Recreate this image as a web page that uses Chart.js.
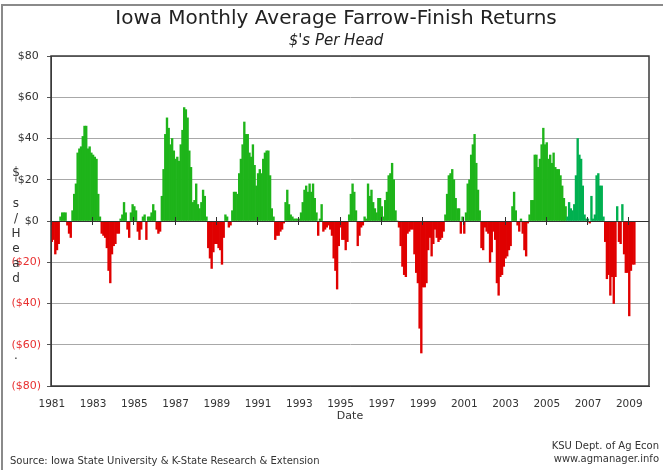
<!DOCTYPE html>
<html>
<head>
<meta charset="utf-8">
<script src="https://cdn.jsdelivr.net/npm/chart.js@4.4.1/dist/chart.umd.min.js"></script>
<style>
  html, body { margin: 0; padding: 0; background: #fff; }
  #wrap { position: relative; width: 663px; height: 470px; overflow: hidden; }
  #frame { position: absolute; left: 1px; top: 4px; width: 700px; height: 500px; border-top: 2px solid #8a8a8a; border-left: 2px solid #8a8a8a; pointer-events: none; }
  canvas { position: absolute; left: 0; top: 0; }
</style>
</head>
<body>
<div id="wrap">
  <canvas id="chartReturns" width="663" height="470"></canvas>
  <div id="frame"></div>
</div>
<script>
/* monthly farrow-finish returns, $ per head */
const r1981 = [-10, -9, -16, -14, -11, 2, 4, 4, 4, -2, -6, -8];
const r1982 = [5, 13, 18, 33, 35, 36, 41, 46, 46, 35, 36, 33];
const r1983 = [32, 31, 30, 13, 2, -6, -7, -8, -13, -24, -30, -16];
const r1984 = [-12, -11, -6, -6, 1, 3, 9, 4, -4, -8, 4, 8];
const r1985 = [7, 5, -5, -9, -4, 2, 3, -9, 2, 2, 4, 8];
const r1986 = [5, -4, -6, -5, 12, 25, 42, 50, 45, 37, 40, 34];
const r1987 = [30, 31, 29, 37, 44, 55, 54, 50, 34, 26, 9, 10];
const r1988 = [18, 8, 6, 9, 15, 12, 2, -13, -18, -23, -15, -11];
const r1989 = [-11, -13, -14, -21, -8, 3, 2, -3, -2, 5, 14, 14];
const r1990 = [13, 23, 30, 37, 48, 42, 42, 33, 31, 37, 27, 17];
const r1991 = [23, 25, 23, 30, 33, 34, 34, 22, 6, 2, -9, -7];
const r1992 = [-7, -5, -4, -1, 9, 15, 8, 3, 2, 1, 1, 1];
const r1993 = [1, 4, 9, 15, 17, 14, 18, 14, 18, 11, 4, -7];
const r1994 = [1, 8, -5, -4, -3, -2, -4, -7, -18, -24, -33, -12];
const r1995 = [-3, -9, -9, -14, -10, 3, 13, 18, 14, 5, -12, -7];
const r1996 = [-3, -2, 2, 1, 18, 12, 15, 9, 6, 4, 11, 11];
const r1997 = [7, 2, 10, 14, 22, 23, 28, 20, 5, 0, -3, -12];
const r1998 = [-22, -26, -27, -6, -5, -4, -4, -16, -25, -30, -52, -64];
const r1999 = [-32, -32, -30, -14, -8, -17, -11, -4, -8, -10, -9, -8];
const r2000 = [-5, 3, 13, 22, 23, 25, 20, 11, 6, 6, -6, 2];
const r2001 = [-6, 4, 18, 20, 32, 37, 42, 28, 15, 5, -13, -14];
const r2002 = [-3, -5, -6, -20, -15, -5, -9, -30, -36, -27, -26, -22];
const r2003 = [-18, -17, -14, -12, 7, 14, 5, -2, -5, 1, -6, -14];
const r2004 = [-17, -1, 3, 10, 10, 32, 32, 26, 30, 37, 45, 37];
const r2005 = [38, 30, 32, 28, 33, 26, 25, 25, 22, 17, 11, 7];
const r2006 = [2, 9, 6, 5, 8, 22, 40, 32, 30, 17, 3, 1];
const r2007 = [1, -1, 12, 1, 3, 22, 23, 17, 17, 2, -10, -28];
const r2008 = [-26, -36, -27, -40, -27, 7, -10, -11, 8, -16, -25, -25];
const r2009 = [-46, -24, -21, -21];

const firstYear = 1981;
const lastYear = 2009;
const yearLabels = ['1981', '1983', '1985', '1987', '1989', '1991', '1993', '1995', '1997', '1999', '2001', '2003', '2005', '2007', '2009'];
const yTicks = [-80, -60, -40, -20, 0, 20, 40, 60, 80];
const projectedFrom = '2006-01';

const returns = [].concat(r1981, r1982, r1983, r1984, r1985, r1986, r1987, r1988, r1989, r1990,
  r1991, r1992, r1993, r1994, r1995, r1996, r1997, r1998, r1999, r2000,
  r2001, r2002, r2003, r2004, r2005, r2006, r2007, r2008, r2009);

const months = [];
for (let yr = firstYear; yr <= lastYear; yr++) {
  for (let m = 1; m <= 12; m++) {
    months.push(yr + '-' + (m < 10 ? '0' + m : m));
  }
}
const projIdx = months.indexOf(projectedFrom);

const barColors = returns.map(function (v, i) {
  if (v < 0) return '#e00000';
  return i >= projIdx ? '#00b050' : '#1eb41a';
});

const FONT = "'DejaVu Sans', Verdana, sans-serif";

const decor = {
  id: 'decor',
  afterDatasetsDraw: function (chart) {
    const ctx = chart.ctx;
    const a = chart.chartArea;
    const x = chart.scales.x;
    const y = chart.scales.y;
    const y0 = y.getPixelForValue(0);
    const half = (a.right - a.left) / months.length / 2;
    ctx.save();
    // zero line
    ctx.strokeStyle = '#303030';
    ctx.lineWidth = 1;
    ctx.beginPath();
    ctx.moveTo(a.left, Math.round(y0) + 0.5);
    ctx.lineTo(a.right, Math.round(y0) + 0.5);
    ctx.stroke();
    // year tick marks on the zero line
    months.forEach(function (mo, i) {
      if (yearLabels.indexOf(mo.slice(0, 4)) >= 0 && mo.slice(5) === '01') {
        const px = Math.round(x.getPixelForValue(i) - half) + 0.5;
        ctx.beginPath();
        ctx.moveTo(px, y0 - 4);
        ctx.lineTo(px, y0 + 4);
        ctx.stroke();
      }
    });
    // plot frame
    ctx.strokeStyle = '#3a3a3a';
    ctx.lineWidth = 1.5;
    ctx.strokeRect(a.left, a.top, a.right - a.left, a.bottom - a.top);
    ctx.restore();
  },
  afterDraw: function (chart) {
    const ctx = chart.ctx;
    ctx.save();
    ctx.fillStyle = '#333';
    ctx.textAlign = 'center';
    ctx.textBaseline = 'middle';
    ctx.font = '12px ' + FONT;
    // stacked axis title, as in the original
    const letters = ['$', "'", 's', '/', 'H', 'e', 'a', 'd'];
    const ly = [173, 184, 204, 219, 234, 249, 264, 279];
    letters.forEach(function (c, i) {
      ctx.fillText(c, 16, ly[i]);
    });
    ctx.fillText('.', 16, 356);
    ctx.font = '10px ' + FONT;
    ctx.textAlign = 'left';
    ctx.fillText('Source: Iowa State University & K-State Research & Extension', 10, 461);
    ctx.textAlign = 'right';
    ctx.fillText('KSU Dept. of Ag Econ', 659, 446);
    ctx.fillText('www.agmanager.info', 659, 459);
    ctx.restore();
  },
};

const chart = new Chart(document.getElementById('chartReturns'), {
  type: 'bar',
  data: {
    labels: months,
    datasets: [
      {
        data: returns,
        backgroundColor: barColors,
        borderWidth: 0,
        barPercentage: 1,
        categoryPercentage: 1,
      },
    ],
  },
  options: {
    responsive: false,
    animation: false,
    layout: {
      padding: { left: 9, right: 0, top: 0, bottom: 0 },
    },
    plugins: {
      legend: { display: false },
      tooltip: { enabled: false },
      title: {
        display: true,
        text: 'Iowa Monthly Average Farrow-Finish Returns',
        color: '#222',
        font: { family: FONT, size: 20, weight: 'normal' },
        padding: { top: 7, bottom: 0 },
      },
      subtitle: {
        display: true,
        text: "$'s Per Head",
        color: '#222',
        font: { family: FONT, size: 15, style: 'italic' },
        padding: { top: 1, bottom: 6 },
      },
    },
    scales: {
      x: {
        grid: { display: false },
        border: { display: true, color: '#3a3a3a' },
        ticks: {
          autoSkip: false,
          maxRotation: 0,
          padding: 4,
          color: '#333',
          font: { family: FONT, size: 10.5 },
          callback: function (val, i) {
            const mo = months[i];
            return mo.slice(5) === '01' && yearLabels.indexOf(mo.slice(0, 4)) >= 0 ? mo.slice(0, 4) : '';
          },
        },
        title: {
          display: true,
          text: 'Date',
          color: '#333',
          font: { family: FONT, size: 11 },
          padding: { top: 0, bottom: 47 },
        },
        afterFit: function (s) {
          s.height = 84;
        },
      },
      y: {
        min: -80,
        max: 80,
        afterBuildTicks: function (s) {
          s.ticks = yTicks.map(function (v) { return { value: v }; });
        },
        grid: {
          color: function (c) { return c.tick && c.tick.value === 0 ? '#303030' : '#a8a8a8'; },
          tickColor: '#555',
          tickLength: 4,
        },
        border: { display: true, color: '#3a3a3a' },
        ticks: {
          padding: 6,
          font: { family: FONT, size: 11 },
          color: function (c) { return c.tick.value < 0 ? '#e83030' : '#333'; },
          callback: function (v) {
            return v < 0 ? '($' + (-v) + ')' : '$' + v + '\u2009';
          },
        },
        afterFit: function (s) {
          s.width = 42;
        },
      },
      yRight: {
        position: 'right',
        display: true,
        grid: { display: false },
        border: { display: false },
        ticks: { display: false },
        afterFit: function (s) {
          s.width = 14;
        },
      },
    },
  },
  plugins: [decor],
});
</script>
</body>
</html>
